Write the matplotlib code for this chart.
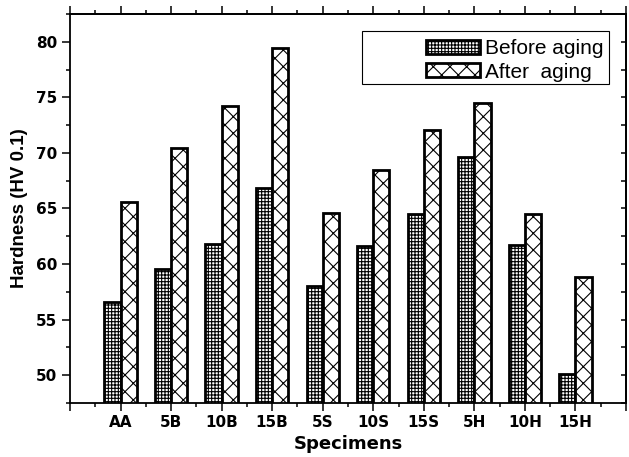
import matplotlib
matplotlib.use('Agg')
import matplotlib.pyplot as plt
from matplotlib.patches import Rectangle
from matplotlib.ticker import MultipleLocator, NullFormatter
import numpy as np

# hardness values
specimens = ['AA', '5B', '10B', '15B', '5S', '10S', '15S', '5H', '10H', '15H']
before_aging = [56.6, 59.6, 61.8, 66.8, 58.0, 61.6, 64.5, 69.6, 61.7, 50.1]
after_aging = [65.6, 70.4, 74.2, 79.4, 64.6, 68.5, 72.1, 74.5, 64.5, 58.8]

plt.rcParams['hatch.linewidth'] = 0.8
plt.rcParams['font.family'] = ['DejaVu Sans']

fig = plt.figure(figsize=(6.29, 4.57), dpi=100)
ax = fig.add_axes([0.1113, 0.1182, 0.8839, 0.8512])

x = np.arange(1, len(specimens) + 1)
w = 0.32
ax.bar(x - w/2, before_aging, w, color='white', edgecolor='black',
       linewidth=2.0, hatch='+++++', label='Before aging')
ax.bar(x + w/2, after_aging, w, color='white', edgecolor='black',
       linewidth=2.0, hatch='xx', label='After  aging')

ax.set_xlim(0, len(specimens) + 1)
ax.set_ylim(47.5, 82.5)
ax.set_xticks(np.arange(0, len(specimens) + 2), [''] + specimens + [''])
ax.xaxis.set_minor_locator(MultipleLocator(0.5))
ax.set_yticks([50, 55, 60, 65, 70, 75, 80])
ax.yaxis.set_minor_locator(MultipleLocator(2.5))

for s in ax.spines.values():
    s.set_linewidth(1.3)

ax.tick_params(axis='both', which='major', direction='out', length=6, width=1.1,
               labelsize=11, pad=3)
ax.tick_params(axis='both', which='minor', direction='out', length=3, width=1.1)
for lab in ax.get_xticklabels() + ax.get_yticklabels():
    lab.set_fontweight('bold')

# top axis: ticks outward, no labels
top = ax.secondary_xaxis('top')
top.xaxis.set_major_locator(MultipleLocator(1))
top.xaxis.set_minor_locator(MultipleLocator(0.5))
top.xaxis.set_major_formatter(NullFormatter())
top.tick_params(which='major', direction='out', length=6, width=1.1)
top.tick_params(which='minor', direction='out', length=3, width=1.1)
top.spines['top'].set_linewidth(1.3)

# right axis: short ticks pointing inwards
right = ax.secondary_yaxis('right')
right.yaxis.set_major_locator(MultipleLocator(2.5))
right.yaxis.set_major_formatter(NullFormatter())
right.tick_params(which='major', direction='in', length=3.3, width=1.1)
right.spines['right'].set_linewidth(1.3)

ax.set_xlabel('Specimens', fontsize=13, fontweight='bold', labelpad=3)
ax.set_ylabel('Hardness (HV 0.1)', fontsize=13.5, fontweight='bold',
              family=['Liberation Sans', 'DejaVu Sans'], labelpad=6)

# legend frame drawn like Origin's, wider than its contents
ax.add_patch(Rectangle((0.525, 0.820), 0.444, 0.136, transform=ax.transAxes,
                       fill=False, edgecolor='black', linewidth=0.8, zorder=5))
leg = ax.legend(loc='upper right', bbox_to_anchor=(0.986, 0.972), frameon=False,
                prop={'family': ['Liberation Sans', 'DejaVu Sans'], 'size': 15},
                handlelength=2.6, handleheight=0.65, handletextpad=0.25,
                labelspacing=0.2, borderpad=0.2)

plt.savefig('out.png', dpi=100)
